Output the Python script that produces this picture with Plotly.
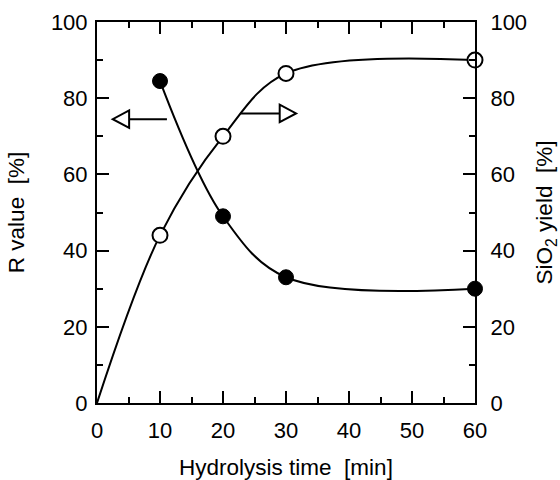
import plotly.graph_objects as go

# Data
time_min = [10, 20, 30, 60]
r_value = [84.5, 49, 33, 30]
sio2_time = [0, 10, 20, 30, 60]
sio2_yield = [0, 44, 70, 86.5, 90]
sio2_marker_time = [10, 20, 30, 60]
sio2_marker_yield = [44, 70, 86.5, 90]

# Arrows (data units): y level, tail x, tip x
arrow_left = dict(y=74.5, tail=11.1, tip=2.5)
arrow_right = dict(y=76, tail=22.8, tip=31.6)
head_len = 2.6   # x units
head_half = 2.3  # y units

FONT = "Liberation Sans, Arial, Helvetica, sans-serif"
SP = "\u00a0\u00a0"

fig = go.Figure()

# R value curve + filled markers (left axis)
fig.add_trace(go.Scatter(
    x=time_min, y=r_value, mode="lines",
    line=dict(color="black", width=2, shape="spline", smoothing=1.0),
    yaxis="y", showlegend=False, hoverinfo="skip"))
fig.add_trace(go.Scatter(
    x=time_min, y=r_value, mode="markers",
    marker=dict(size=15, color="black", line=dict(color="black", width=1)),
    yaxis="y", showlegend=False, cliponaxis=False))

# SiO2 yield curve + open markers (right axis)
fig.add_trace(go.Scatter(
    x=sio2_time, y=sio2_yield, mode="lines",
    line=dict(color="black", width=2, shape="spline", smoothing=1.0),
    yaxis="y2", showlegend=False, hoverinfo="skip"))
fig.add_trace(go.Scatter(
    x=sio2_marker_time, y=sio2_marker_yield, mode="markers",
    marker=dict(size=15, color="white", line=dict(color="black", width=2)),
    yaxis="y2", showlegend=False, cliponaxis=False))

shapes = []
for a, yref in ((arrow_left, "y"), (arrow_right, "y2")):
    d = 1 if a["tip"] > a["tail"] else -1
    base = a["tip"] - d * head_len
    shapes.append(dict(type="line", xref="x", yref=yref,
                       x0=a["tail"], x1=base, y0=a["y"], y1=a["y"],
                       line=dict(color="black", width=2)))
    path = (f"M {base},{a['y'] - head_half} L {a['tip']},{a['y']} "
            f"L {base},{a['y'] + head_half} Z")
    shapes.append(dict(type="path", xref="x", yref=yref, path=path,
                       fillcolor="white", line=dict(color="black", width=2)))

axis_common = dict(
    showline=True, linecolor="black", linewidth=2,
    ticks="inside", ticklen=12, tickwidth=1.5, tickcolor="black",
    showgrid=False, zeroline=False, automargin=False,
    tickfont=dict(family=FONT, size=22, color="black"),
)
minor_common = dict(ticks="inside", ticklen=6, tickwidth=1.5,
                    tickcolor="black", showgrid=False)
title_font = dict(family=FONT, size=22.5, color="black")

fig.update_layout(
    width=560, height=480,
    margin=dict(l=97, r=85, t=22, b=77),
    paper_bgcolor="white", plot_bgcolor="white",
    shapes=shapes,
    xaxis=dict(
        range=[0, 60], tickmode="linear", tick0=0, dtick=10,
        mirror="ticks", ticklabelstandoff=7,
        minor=dict(dtick=5, tick0=0, **minor_common),
        title=dict(text=f"Hydrolysis time{SP}[min]", font=title_font, standoff=24),
        **axis_common),
    yaxis=dict(
        range=[0, 100], tickmode="linear", tick0=0, dtick=20,
        ticklabelstandoff=3,
        minor=dict(dtick=10, tick0=0, **minor_common),
        title=dict(text=f"R value{SP}[%]", font=title_font, standoff=20),
        **axis_common),
    yaxis2=dict(
        range=[0, 100], tickmode="linear", tick0=0, dtick=20,
        overlaying="y", side="right", anchor="x", ticklabelstandoff=9,
        minor=dict(dtick=10, tick0=0, **minor_common),
        title=dict(text=f"SiO<sub>2</sub> yield{SP}[%]", font=title_font, standoff=18),
        **axis_common),
)

fig.write_html("out.html", config={"displayModeBar": False},
               post_script="document.body.style.margin='0';")
